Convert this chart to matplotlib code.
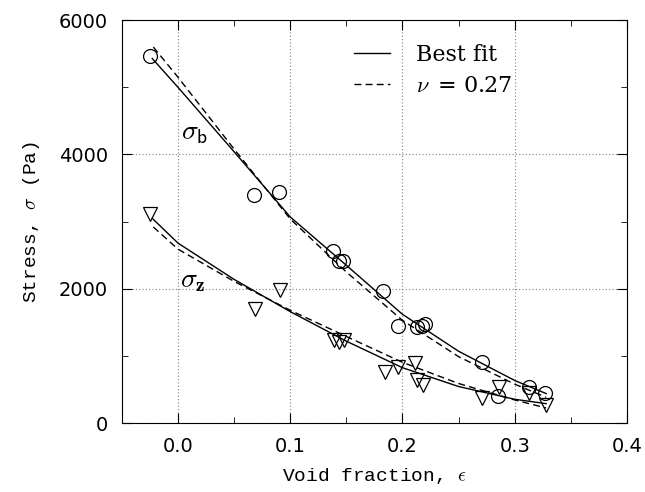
import numpy as np
import matplotlib
matplotlib.use("Agg")
import matplotlib.pyplot as plt
from matplotlib.ticker import MultipleLocator, FormatStrFormatter

plt.rcParams['font.family'] = ['DejaVu Serif']
plt.rcParams['mathtext.fontset'] = 'cm'

# measured points, sigma_b (circles)
eps_b = [-0.025, 0.068, 0.090, 0.138, 0.143, 0.147, 0.183, 0.196, 0.213, 0.217,
         0.220, 0.271, 0.285, 0.313, 0.327]
sig_b = [5460, 3395, 3440, 2560, 2420, 2410, 1965, 1445, 1430, 1450,
         1470, 905, 400, 535, 450]

# measured points, sigma_z (triangles)
eps_z = [-0.025, 0.069, 0.091, 0.139, 0.143, 0.148, 0.184, 0.196, 0.211, 0.213,
         0.218, 0.271, 0.286, 0.313, 0.328]
sig_z = [3120, 1700, 1980, 1240, 1210, 1240, 760, 835, 895, 640,
         565, 372, 536, 447, 268]

# best fit curves
fit_x = [-0.023, 0.0, 0.05, 0.1, 0.15, 0.2, 0.25, 0.3, 0.328]
fit_b = [5430, 5000, 4040, 3070, 2350, 1620, 1070, 635, 440]
fit_z = [3050, 2680, 2140, 1660, 1220, 825, 545, 355, 290]

# nu = 0.27 curves
nu_x = [-0.022, 0.0, 0.05, 0.1, 0.15, 0.2, 0.25, 0.3, 0.328]
nu_b = [5600, 5150, 4080, 3040, 2250, 1530, 990, 580, 385]
nu_z = [2920, 2590, 2110, 1680, 1290, 905, 590, 345, 225]

fig = plt.figure(figsize=(6.45, 4.92), dpi=100)
ax = fig.add_axes([0.189, 0.140, 0.783, 0.819])

ax.plot(fit_x, fit_b, color='black', lw=1.0, label='Best fit')
ax.plot(nu_x, nu_b, color='black', lw=1.0, ls=(0, (5, 3)), label=r'$\nu\,$ = 0.27')
ax.plot(fit_x, fit_z, color='black', lw=1.0)
ax.plot(nu_x, nu_z, color='black', lw=1.0, ls=(0, (5, 3)))

ax.plot(eps_b, sig_b, 'o', ms=10, mfc='none', mec='black', mew=0.9)
ax.plot(eps_z, sig_z, 'v', ms=10, mfc='none', mec='black', mew=0.9)

# curve labels
ax.text(0.003, 4230, r'$\sigma_{\mathsf{b}}$', fontsize=20)
ax.text(0.002, 2030, r'$\sigma_{\mathbf{z}}$', fontsize=20)

ax.set_xlim(-0.05, 0.4)
ax.set_ylim(0, 6000)
ax.xaxis.set_major_locator(MultipleLocator(0.1))
ax.xaxis.set_minor_locator(MultipleLocator(0.05))
ax.yaxis.set_major_locator(MultipleLocator(2000))
ax.yaxis.set_minor_locator(MultipleLocator(1000))
ax.xaxis.set_major_formatter(FormatStrFormatter('%.1f'))
ax.tick_params(which='both', direction='in', top=True, right=True, labelsize=14)
ax.tick_params(which='major', length=7, pad=10)
ax.tick_params(which='minor', length=4)
for lab in ax.get_xticklabels() + ax.get_yticklabels():
    lab.set_family('DejaVu Sans')
ax.grid(True, which='major', ls=(0, (1, 2)), color='gray', lw=0.8)

ax.set_xlabel(r'Void fraction, $\epsilon$', fontsize=14, family='Liberation Mono', labelpad=7)
ax.set_ylabel(r'Stress, $\sigma$ (Pa)', fontsize=14, family='Liberation Mono', labelpad=12)

ax.legend(loc='upper left', bbox_to_anchor=(0.42, 0.99), frameon=False,
          fontsize=16, handlelength=1.6, handletextpad=1.2, labelspacing=0.4)

fig.savefig('out.png', dpi=100)
